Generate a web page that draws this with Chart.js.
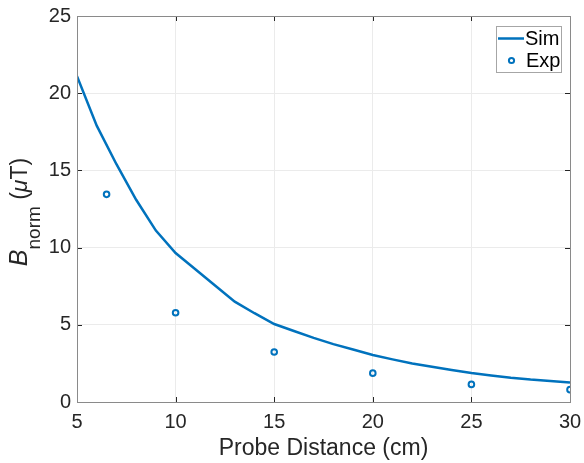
<!DOCTYPE html>
<html>
<head>
<meta charset="utf-8">
<script src="https://cdn.jsdelivr.net/npm/chart.js@4/dist/chart.umd.min.js"></script>
<style>
  html, body { margin: 0; padding: 0; background: #fff; }
  #wrap { width: 584px; height: 463px; }
</style>
</head>
<body>
<div id="wrap"><canvas id="c" width="584" height="463"></canvas></div>
<script>
// Simulated field along the probe path (1 cm steps)
const simDist = [5, 6, 7, 8, 9, 10, 11, 12, 13, 14, 15, 16, 17, 18, 19, 20, 21, 22, 23, 24, 25, 26, 27, 28, 29, 30];
const simB    = [21.1, 17.9, 15.4, 13.1, 11.1, 9.65, 8.6, 7.55, 6.5, 5.75, 5.05, 4.6, 4.15, 3.75, 3.4, 3.04, 2.76, 2.5, 2.28, 2.07, 1.88, 1.72, 1.57, 1.45, 1.36, 1.27];

// Measured field
const expDist = [6.5, 10, 15, 20, 25, 30];
const expB    = [13.45, 5.78, 3.24, 1.87, 1.14, 0.8];

// Axis ticks
const xTicks = [5, 10, 15, 20, 25, 30];
const yTicks = [0, 5, 10, 15, 20, 25];

const seriesNames = ['Sim', 'Exp'];
const blue = '#0072BD';
const textColor = '#262626';
const FONT = '"Liberation Sans", Helvetica, Arial, sans-serif';

const simPts = simDist.map((d, i) => ({ x: d, y: simB[i] }));
const expPts = expDist.map((d, i) => ({ x: d, y: expB[i] }));

// Box outline, inward ticks, axis labels and legend
const decor = {
  id: 'decor',
  afterDraw(chart) {
    const { ctx, chartArea: a, scales } = chart;
    const xs = scales.x, ys = scales.y;
    ctx.save();

    // inward ticks on all four sides
    ctx.strokeStyle = '#262626';
    ctx.lineWidth = 1;
    const tl = 5;
    ctx.beginPath();
    xTicks.forEach(v => {
      const px = Math.round(xs.getPixelForValue(v)) + 0.5;
      ctx.moveTo(px, a.bottom); ctx.lineTo(px, a.bottom - tl);
      ctx.moveTo(px, a.top); ctx.lineTo(px, a.top + tl);
    });
    yTicks.forEach(v => {
      const py = Math.round(ys.getPixelForValue(v)) + 0.5;
      ctx.moveTo(a.left, py); ctx.lineTo(a.left + tl, py);
      ctx.moveTo(a.right, py); ctx.lineTo(a.right - tl, py);
    });
    ctx.stroke();

    // box
    ctx.strokeStyle = '#8a8a8a';
    ctx.lineWidth = 1;
    ctx.strokeRect(Math.round(a.left) + 0.5, Math.round(a.top) + 0.5,
                   Math.round(a.right - a.left), Math.round(a.bottom - a.top));

    // x axis title
    ctx.fillStyle = textColor;
    ctx.font = '23px ' + FONT;
    ctx.textAlign = 'center';
    ctx.textBaseline = 'alphabetic';
    ctx.fillText('Probe Distance (cm)', (a.left + a.right) / 2, 455);

    // y axis title: B_norm (μT), rotated
    ctx.translate(27, 212);
    ctx.rotate(-Math.PI / 2);
    const parts = [
      { t: 'B', f: 'italic 25px ' + FONT, dy: 0 },
      { t: 'norm', f: '19px ' + FONT, dy: 13 },
      { t: ' (', f: '23px ' + FONT, dy: 0 },
      { t: 'μ', f: 'italic 23px ' + FONT, dy: 0 },
      { t: 'T)', f: '23px ' + FONT, dy: 0 }
    ];
    let total = 0;
    parts.forEach(p => { ctx.font = p.f; p.w = ctx.measureText(p.t).width; total += p.w; });
    let cx = -total / 2;
    ctx.textAlign = 'left';
    parts.forEach(p => {
      ctx.font = p.f;
      ctx.fillText(p.t, cx, p.dy);
      cx += p.w;
    });
    ctx.restore();

    // legend
    ctx.save();
    const lx = 496, ly = 26, lw = 65, lh = 46;
    ctx.fillStyle = '#fff';
    ctx.fillRect(lx, ly, lw, lh);
    ctx.strokeStyle = '#a6a6a6';
    ctx.lineWidth = 1;
    ctx.strokeRect(lx + 0.5, ly + 0.5, lw, lh);
    ctx.strokeStyle = blue;
    ctx.lineWidth = 2.5;
    ctx.beginPath();
    ctx.moveTo(498, 38.5); ctx.lineTo(524, 38.5);
    ctx.stroke();
    ctx.lineWidth = 2;
    ctx.beginPath();
    ctx.arc(511.5, 60.5, 2.6, 0, Math.PI * 2);
    ctx.stroke();
    ctx.fillStyle = '#000';
    ctx.font = '20px ' + FONT;
    ctx.textAlign = 'left';
    ctx.textBaseline = 'middle';
    ctx.fillText(seriesNames[0], 525, 39);
    ctx.fillText(seriesNames[1], 526, 61);
    ctx.restore();
  }
};

new Chart(document.getElementById('c'), {
  type: 'scatter',
  data: {
    datasets: [
      {
        label: seriesNames[0],
        data: simPts,
        showLine: true,
        borderColor: blue,
        borderWidth: 2.5,
        pointRadius: 0,
        tension: 0,
        fill: false
      },
      {
        label: seriesNames[1],
        data: expPts,
        showLine: false,
        borderColor: blue,
        backgroundColor: 'rgba(0,0,0,0)',
        borderWidth: 2,
        pointRadius: 2.8,
        pointStyle: 'circle'
      }
    ]
  },
  options: {
    responsive: false,
    animation: false,
    devicePixelRatio: 1,
    layout: { padding: { top: 16, right: 14, left: 0, bottom: 0 } },
    plugins: { legend: { display: false }, tooltip: { enabled: false } },
    scales: {
      x: {
        type: 'linear',
        min: 5, max: 30,
        afterBuildTicks: s => { s.ticks = xTicks.map(v => ({ value: v })); },
        afterFit: s => { s.height = 61; s.paddingLeft = 0; s.paddingRight = 0; },
        grid: { color: '#ebebeb', drawTicks: false, lineWidth: 1 },
        border: { display: false },
        ticks: { color: textColor, font: { family: FONT, size: 20 }, padding: 8, maxRotation: 0 }
      },
      y: {
        type: 'linear',
        min: 0, max: 25,
        afterBuildTicks: s => { s.ticks = yTicks.map(v => ({ value: v })); },
        afterFit: s => { s.width = 77; s.paddingTop = 0; s.paddingBottom = 0; },
        grid: { color: '#ebebeb', drawTicks: false, lineWidth: 1 },
        border: { display: false },
        ticks: { color: textColor, font: { family: FONT, size: 20 }, padding: 6 }
      }
    }
  },
  plugins: [decor]
});
</script>
</body>
</html>
